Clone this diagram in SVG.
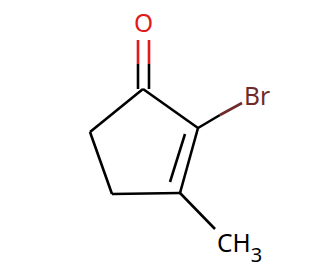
<svg xmlns="http://www.w3.org/2000/svg" width="320" height="275" viewBox="0 0 320 275">
<style>
.b{stroke:#000;stroke-width:2.6;fill:none;stroke-linecap:butt}
.o{stroke:#e0191b;stroke-width:2.6;fill:none}
.br{stroke:#6e2b2b;stroke-width:2.6;fill:none}
text{font-family:"Noto Sans","Open Sans",sans-serif;font-size:24.5px}
</style>
<rect width="320" height="275" fill="#fff"/>
<g id="connectors">
<line class="b" x1="143" y1="89" x2="198" y2="128"/>
<line class="b" x1="198" y1="128" x2="180" y2="193"/>
<line class="b" x1="185" y1="134" x2="170" y2="182"/>
<line class="b" x1="180" y1="193" x2="112" y2="194"/>
<line class="b" x1="112" y1="194" x2="90" y2="132"/>
<line class="b" x1="90" y1="132" x2="143" y2="89"/>
<line class="b" x1="138" y1="89" x2="138" y2="64"/>
<line class="o" x1="138" y1="64" x2="138" y2="40"/>
<line class="b" x1="149" y1="89" x2="149" y2="64"/>
<line class="o" x1="149" y1="64" x2="149" y2="40"/>
<line class="b" x1="198" y1="128" x2="220" y2="115"/>
<line class="br" x1="220" y1="115" x2="242" y2="103"/>
<line class="b" x1="180" y1="193" x2="215" y2="229"/>
</g>
<g id="O"><text x="143.5" y="32" fill="#e0191b" text-anchor="middle">O</text></g>
<g id="Br"><text x="244" y="105" fill="#6e2b2b">Br</text></g>
<g id="CH3"><text x="217" y="252" fill="#000">CH<tspan dy="10" font-size="20">3</tspan></text></g>
</svg>
